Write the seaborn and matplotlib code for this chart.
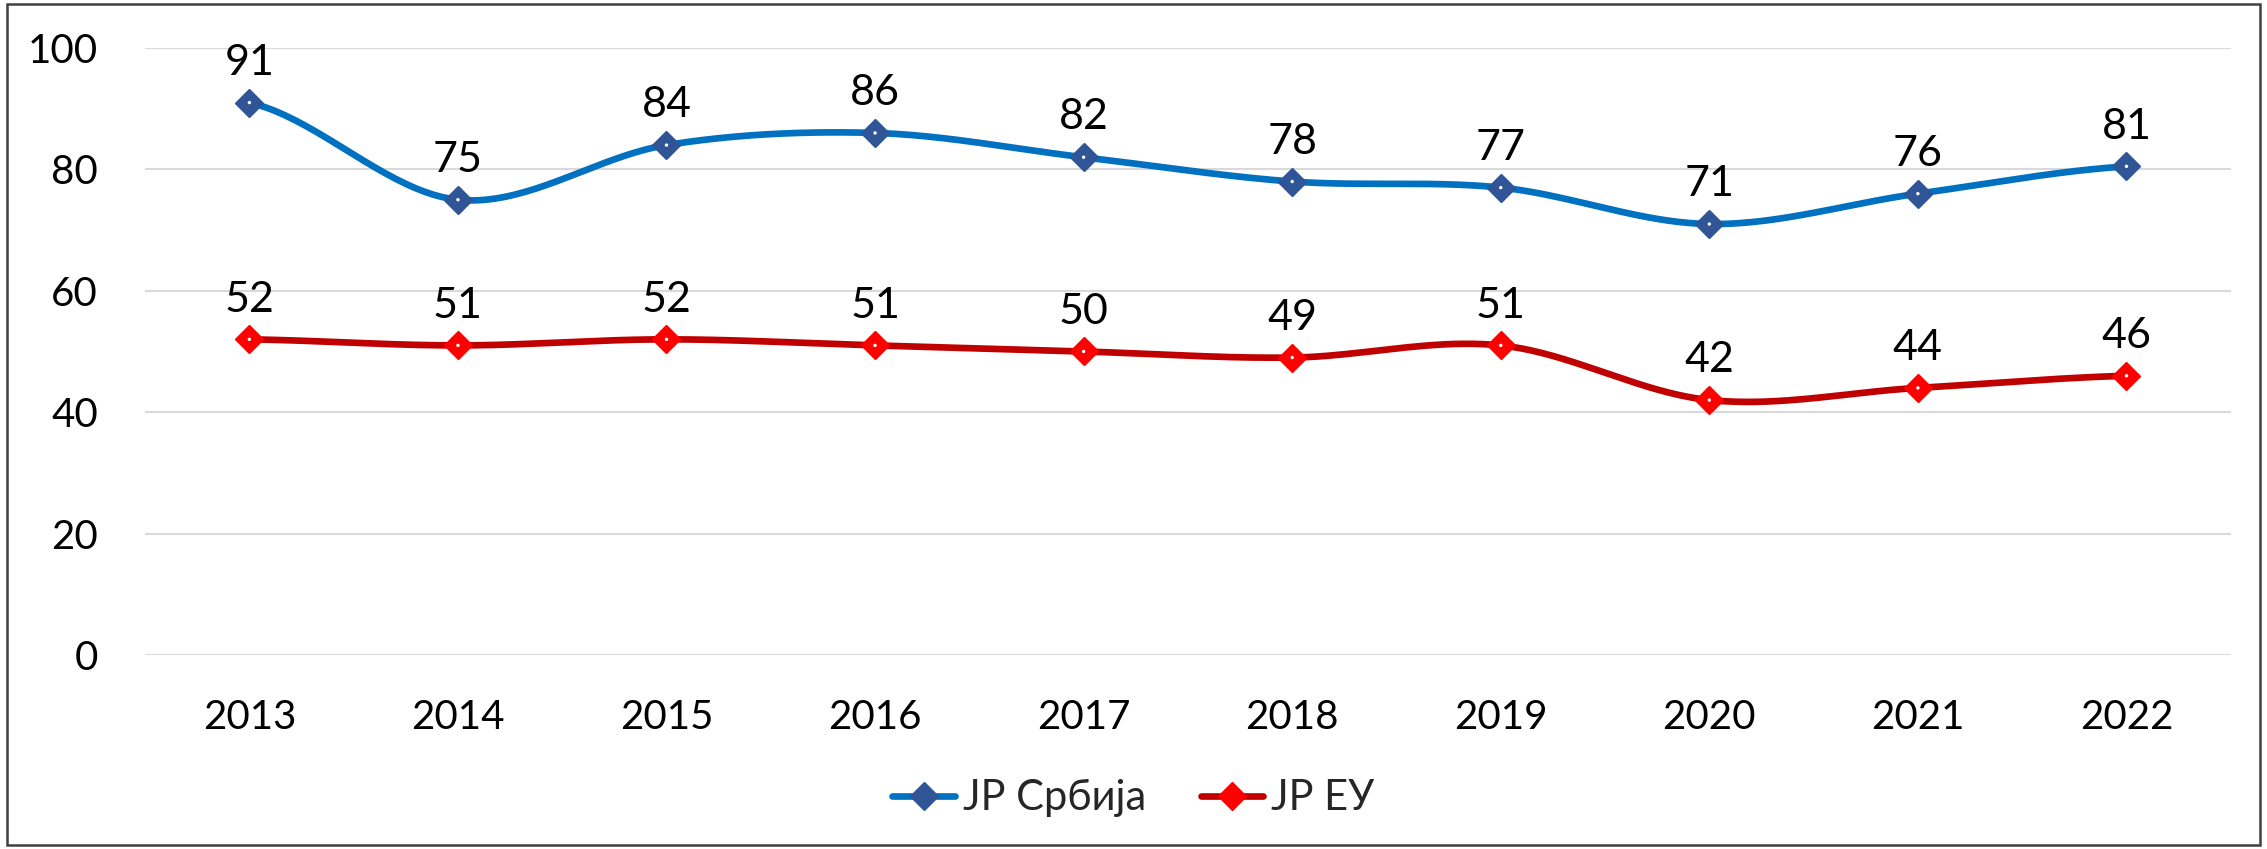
import numpy as np
import pandas as pd
import seaborn as sns
import matplotlib.pyplot as plt
from matplotlib.lines import Line2D
from matplotlib.patches import Rectangle

# podaci
godine = ['2013', '2014', '2015', '2016', '2017', '2018', '2019', '2020', '2021', '2022']
jp_srbija = [91, 75, 84, 86, 82, 78, 77, 71, 76, 80.5]
jp_eu = [52, 51, 52, 51, 50, 49, 51, 42, 44, 46]
serije = ['JP Србија', 'JP ЕУ']

sns.set_style('white')
plt.rcParams['font.family'] = ['Lato', 'Noto Sans', 'DejaVu Sans']


def glatko(y, n=40):
    # Catmull-Rom kriva kroz tacke (kao "smoothed line" u Excelu)
    y = np.asarray(y, dtype=float)
    p = np.concatenate([[y[0]], y, [y[-1]]])
    xs, ys = [], []
    for i in range(len(y) - 1):
        p0, p1, p2, p3 = p[i], p[i + 1], p[i + 2], p[i + 3]
        t = np.linspace(0, 1, n, endpoint=False)
        yy = 0.5 * (2 * p1 + (-p0 + p2) * t + (2 * p0 - 5 * p1 + 4 * p2 - p3) * t ** 2
                    + (-p0 + 3 * p1 - 3 * p2 + p3) * t ** 3)
        xs.append(i + t)
        ys.append(yy)
    xs.append([len(y) - 1])
    ys.append([y[-1]])
    return np.concatenate(xs), np.concatenate(ys)


fig = plt.figure(figsize=(22.67, 8.49), dpi=100)
ax = fig.add_axes([0.064, 0.2285, 0.92, 0.715])

boje_linije = ['#0070C0', '#C00000']
boje_markera = ['#2F5597', '#FF0000']

for vrednosti, linija, marker in zip([jp_srbija, jp_eu], boje_linije, boje_markera):
    gx, gy = glatko(vrednosti)
    kriva = pd.DataFrame({'x': gx, 'y': gy})
    sns.lineplot(data=kriva, x='x', y='y', ax=ax, color=linija, lw=4.8,
                 solid_capstyle='round', zorder=3)
    tacke = pd.DataFrame({'x': np.arange(len(vrednosti)), 'y': vrednosti})
    sns.scatterplot(data=tacke, x='x', y='y', ax=ax, marker='D', s=190,
                    color=marker, edgecolor=marker, linewidth=1.5, zorder=4)
    sns.scatterplot(data=tacke, x='x', y='y', ax=ax, marker='o', s=6,
                    color='white', edgecolor='none', zorder=5)
    for i, v in enumerate(vrednosti):
        ax.annotate(f'{v:.0f}' if v != 80.5 else '81', (i, v), xytext=(0, 15),
                    textcoords='offset points', ha='center', va='bottom',
                    fontsize=31, color='black', zorder=6)

ax.set_xlim(-0.5, len(godine) - 0.5)
ax.set_ylim(0, 100)
ax.set_yticks(range(0, 101, 20))
ax.set_xticks(range(len(godine)))
ax.set_xticklabels(godine)
ax.tick_params(axis='both', labelsize=29, length=0, colors='black')
ax.tick_params(axis='y', pad=34)
ax.tick_params(axis='x', pad=32)
ax.grid(axis='y', color='#D9D9D9', lw=1.5)
ax.set_axisbelow(True)
ax.set_xlabel('')
ax.set_ylabel('')
for s in ax.spines.values():
    s.set_visible(False)

rukovaoci = [Line2D([0], [0], color=l, lw=4.8, marker='D', markersize=14,
                    markerfacecolor=m, markeredgecolor=m, solid_capstyle='round')
             for l, m in zip(boje_linije, boje_markera)]
fig.legend(rukovaoci, serije, loc='center', bbox_to_anchor=(0.5, 0.06), ncol=2,
           frameon=False, fontsize=30, handlelength=1.5, handletextpad=0.2,
           columnspacing=1.3)

fig.patches.append(Rectangle((0.003, 0.005), 0.994, 0.99, transform=fig.transFigure,
                             fill=False, edgecolor='#404040', lw=1.8))

fig.savefig('out.png', dpi=100)
